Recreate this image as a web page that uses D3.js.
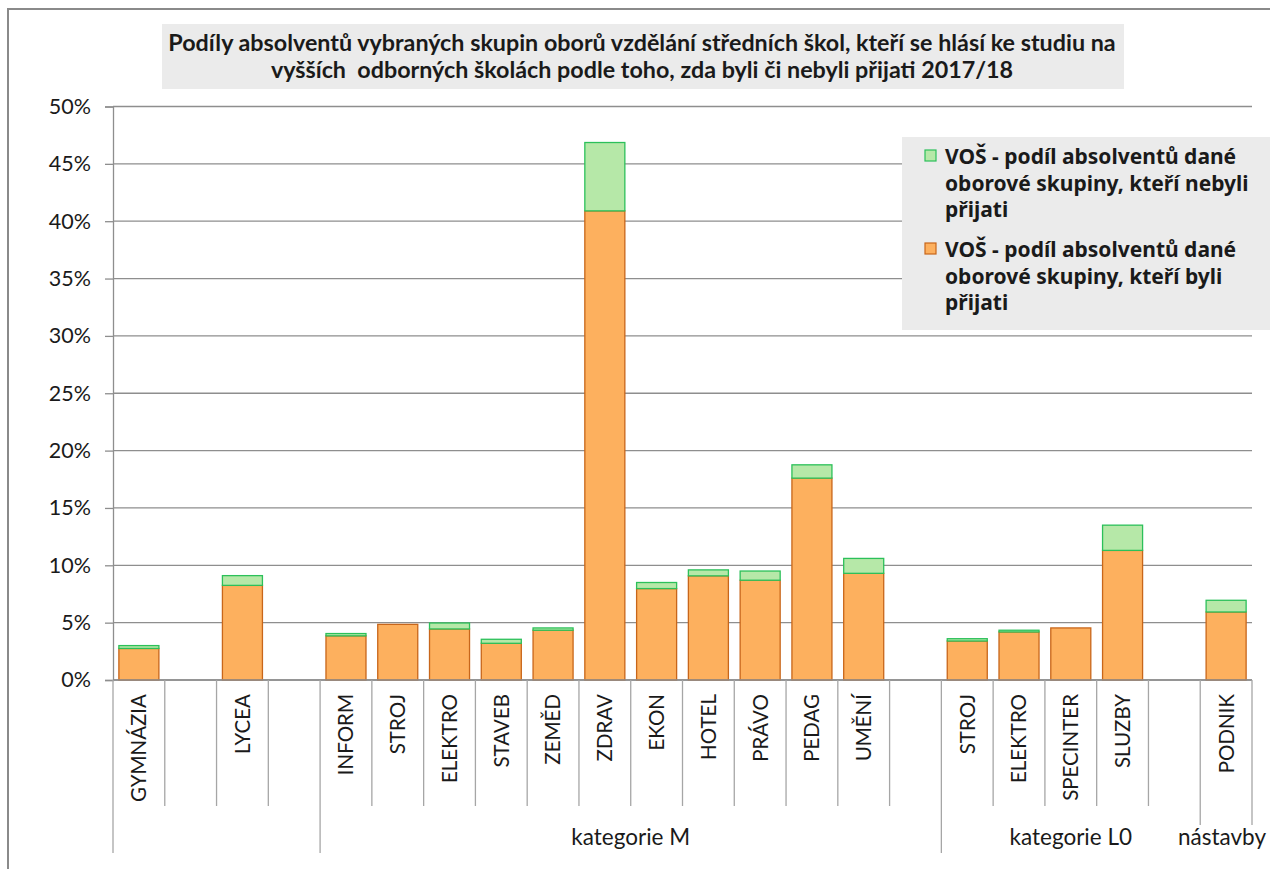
<!DOCTYPE html>
<html>
<head>
<meta charset="utf-8">
<script src="https://cdn.jsdelivr.net/npm/d3@7"></script>
<style>
  body { margin: 0; background: #fff; }
  text { font-family: Lato, "Noto Sans", sans-serif; fill: #1a1a1a; }
</style>
</head>
<body>
<script>
// categories (empty strings = gaps between the groups)
const categories = ["GYMNÁZIA", "", "LYCEA", "", "INFORM", "STROJ", "ELEKTRO", "STAVEB", "ZEMĚD",
  "ZDRAV", "EKON", "HOTEL", "PRÁVO", "PEDAG", "UMĚNÍ", "", "STROJ", "ELEKTRO", "SPECINTER", "SLUZBY", "", "PODNIK"]

// % prijati
const prijati = [2.75, null, 8.25, null, 3.85, 4.85, 4.45, 3.2, 4.34,
  40.9, 7.97, 9.08, 8.7, 17.6, 9.3, null, 3.4, 4.19, 4.54, 11.3, null, 5.93]
// % neprijati
const neprijati = [0.25, null, 0.85, null, 0.2, 0, 0.52, 0.35, 0.2,
  5.96, 0.53, 0.52, 0.8, 1.16, 1.3, null, 0.2, 0.15, 0, 2.2, null, 1.02]

const groupLabels = ["", "kategorie M", "kategorie L0", "nástavby"]
const groupStarts = [0, 4, 16, 21]

const yTicks = [0, 5, 10, 15, 20, 25, 30, 35, 40, 45, 50]

const titleLines = ["Podíly absolventů vybraných skupin oborů vzdělání středních škol, kteří se hlásí ke studiu na",
  "vyšších  odborných školách podle toho, zda byli či nebyli přijati 2017/18"]
const legendLabels = [
  ["VOŠ - podíl absolventů dané", "oborové skupiny, kteří nebyli", "přijati"],
  ["VOŠ - podíl absolventů dané", "oborové skupiny, kteří byli", "přijati"]
]

const WIDTH = 1270
const HEIGHT = 869
const LEFT = 113, RIGHT = 1252, TOP = 106.5, BOTTOM = 680

const svg = d3.select("body").append("svg")
  .attr("width", WIDTH)
  .attr("height", HEIGHT)

// cadre
svg.append("rect")
  .attr("x", 8).attr("y", 9)
  .attr("width", 1400).attr("height", 1000)
  .attr("fill", "none").attr("stroke", "#8a8a8a").attr("stroke-width", 2)

const x = d3.scaleBand()
  .domain(d3.range(categories.length))
  .range([LEFT, RIGHT])
  .paddingInner(0.227)
  .paddingOuter(0.1135)

const y = d3.scaleLinear().domain([0, 50]).range([BOTTOM, TOP])

// grille + axe y
const yAxis = svg.append("g")
  .attr("transform", `translate(${LEFT},0)`)
  .call(d3.axisLeft(y).tickValues(yTicks).tickSize(8).tickPadding(14).tickFormat(d => d + "%"))
yAxis.select(".domain").attr("stroke", "#8e8e8e").attr("stroke-width", 1.3)
yAxis.selectAll(".tick line").attr("stroke", "#8e8e8e").attr("stroke-width", 1.3)
yAxis.selectAll(".tick text").attr("font-size", 21.5).attr("fill", "#1a1a1a")
  .style("font-family", "Lato, sans-serif")

svg.append("g").selectAll("line")
  .data(yTicks)
  .enter().append("line")
  .attr("x1", LEFT).attr("x2", RIGHT)
  .attr("y1", d => y(d)).attr("y2", d => y(d))
  .attr("stroke", "#8e8e8e").attr("stroke-width", 1.3)

// barres
const idx = d3.range(categories.length).filter(i => prijati[i] != null)
const bars = svg.append("g")
bars.selectAll("rect.prij")
  .data(idx)
  .enter().append("rect")
  .attr("x", i => x(i))
  .attr("width", x.bandwidth())
  .attr("y", i => y(prijati[i]))
  .attr("height", i => y(0) - y(prijati[i]))
  .attr("fill", "#fdb05e")
  .attr("stroke", "#c8661a")
  .attr("stroke-width", 1.3)

bars.selectAll("rect.neprij")
  .data(idx.filter(i => neprijati[i] > 0))
  .enter().append("rect")
  .attr("x", i => x(i))
  .attr("width", x.bandwidth())
  .attr("y", i => y(prijati[i] + neprijati[i]))
  .attr("height", i => y(prijati[i]) - y(prijati[i] + neprijati[i]))
  .attr("fill", "#b6e8a8")
  .attr("stroke", "#2cc05a")
  .attr("stroke-width", 1.3)

// axe x
const step = x.step()
const bx = i => LEFT + i * step
const gx = svg.append("g")
gx.append("line")
  .attr("x1", LEFT).attr("x2", RIGHT).attr("y1", BOTTOM).attr("y2", BOTTOM)
  .attr("stroke", "#8e8e8e").attr("stroke-width", 1.3)

gx.selectAll("line.sep")
  .data(d3.range(categories.length + 1))
  .enter().append("line")
  .attr("x1", i => bx(i)).attr("x2", i => bx(i))
  .attr("y1", BOTTOM)
  .attr("y2", i => (i == 0 || i == 4 || i == 16) ? 853 : (i >= 21 ? 825 : 806))
  .attr("stroke", "#a6a6a6").attr("stroke-width", 1.3)

gx.selectAll("text.cat")
  .data(d3.range(categories.length))
  .enter().append("text")
  .attr("transform", i => `translate(${x(i) + x.bandwidth() / 2},694) rotate(-90)`)
  .attr("dy", "0.36em")
  .attr("text-anchor", "end")
  .attr("font-size", 20.5)
  .text(i => categories[i])

gx.selectAll("text.grp")
  .data(groupLabels)
  .enter().append("text")
  .attr("x", (d, k) => {
    const end = k < groupStarts.length - 1 ? groupStarts[k + 1] : categories.length
    return (bx(groupStarts[k]) + bx(end)) / 2
  })
  .attr("y", 845)
  .attr("text-anchor", "middle")
  .attr("font-size", 22.5)
  .text(d => d)
  .each(function () {
    // on garde le libellé dans le cadre (nástavby)
    const w = this.getComputedTextLength()
    const cx = +this.getAttribute("x")
    if (cx + w / 2 > WIDTH - 4) this.setAttribute("x", WIDTH - 4 - w / 2)
  })

// titre
svg.append("rect")
  .attr("x", 162).attr("y", 24).attr("width", 962).attr("height", 65)
  .attr("fill", "#ebebeb")
svg.selectAll("text.title")
  .data(titleLines)
  .enter().append("text")
  .attr("x", 642)
  .attr("y", (d, i) => 51 + i * 27)
  .attr("text-anchor", "middle")
  .attr("font-size", 23.3)
  .attr("font-weight", "bold")
  .style("white-space", "pre")
  .text(d => d)

// légende
const leg = svg.append("g")
leg.append("rect")
  .attr("x", 902).attr("y", 137).attr("width", 370).attr("height", 193)
  .attr("fill", "#ebebeb")
const legColors = [["#b6e8a8", "#2cc05a"], ["#fdb05e", "#c8661a"]]
legendLabels.forEach((lines, k) => {
  const y0 = 164 + k * 93
  leg.append("rect")
    .attr("x", 925).attr("y", y0 - 14).attr("width", 11).attr("height", 11)
    .attr("fill", legColors[k][0]).attr("stroke", legColors[k][1]).attr("stroke-width", 1.2)
  lines.forEach((t, j) => {
    leg.append("text")
      .attr("x", 945).attr("y", y0 + j * 26.5)
      .attr("font-size", 21)
      .attr("font-weight", "bold")
      .style("font-family", "'Noto Sans', sans-serif")
      .text(t)
  })
})
</script>
</body>
</html>
